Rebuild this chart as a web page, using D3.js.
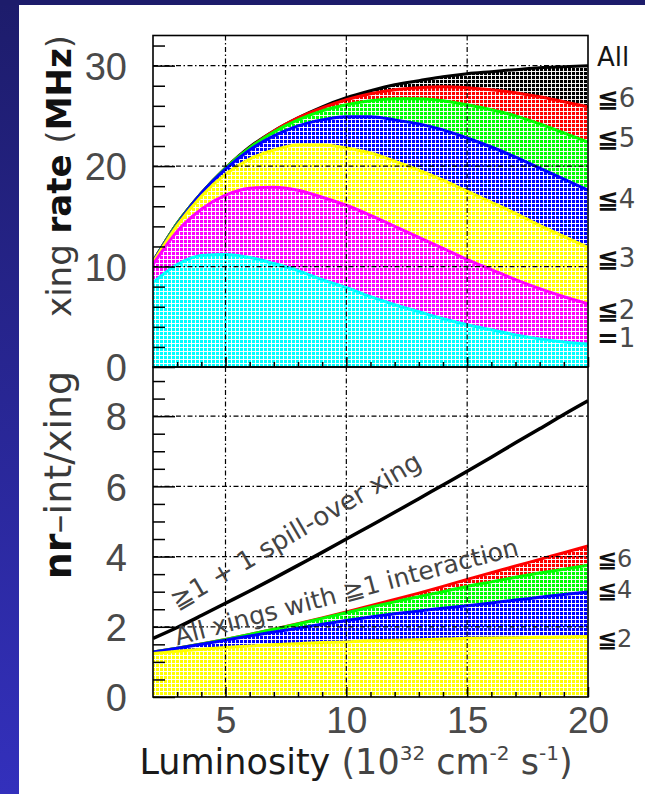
<!DOCTYPE html>
<html>
<head>
<meta charset="utf-8">
<script src="https://cdn.jsdelivr.net/npm/d3@7"></script>
<style>
  html, body { margin: 0; padding: 0; background: #fff; }
  svg { display: block; }
</style>
</head>
<body>
<svg id="chart" width="645" height="794"></svg>
<script>
// Luminosity sample points (10^32 cm^-2 s^-1)
const lumi = [2, 3, 4, 5, 6, 7, 8, 9, 10, 11, 12, 13, 14, 15, 16, 17, 18, 19, 20];

// Crossing rate (MHz), cumulative by number of interactions per crossing
const rateEq1 = [8.4, 10.2, 11.1, 11.2, 10.9, 10.3, 9.6, 8.7, 7.9, 7.0, 6.2, 5.5, 4.8, 4.2, 3.7, 3.2, 2.8, 2.5, 2.3];
const rateLe2 = [10.2, 13.5, 15.7, 17.1, 17.8, 17.9, 17.6, 16.9, 16.1, 15.1, 14.0, 12.9, 11.8, 10.7, 9.7, 8.7, 7.8, 7.0, 6.3];
const rateLe3 = [10.4, 14.1, 17.0, 19.2, 20.7, 21.6, 22.1, 22.1, 21.8, 21.3, 20.5, 19.6, 18.6, 17.5, 16.4, 15.3, 14.1, 13.0, 11.9];
const rateLe4 = [10.5, 14.2, 17.3, 19.7, 21.6, 23.0, 24.0, 24.6, 24.9, 24.9, 24.6, 24.2, 23.6, 22.8, 21.9, 20.9, 19.8, 18.7, 17.6];
const rateLe5 = [10.5, 14.3, 17.3, 19.8, 21.8, 23.4, 24.6, 25.5, 26.1, 26.5, 26.7, 26.7, 26.5, 26.1, 25.6, 25.0, 24.2, 23.3, 22.4];
const rateLe6 = [10.5, 14.3, 17.3, 19.8, 21.8, 23.5, 24.8, 25.8, 26.6, 27.2, 27.6, 27.8, 27.9, 27.8, 27.6, 27.3, 26.9, 26.4, 25.9];
const rateAll = [10.5, 14.3, 17.3, 19.8, 21.9, 23.5, 24.8, 25.9, 26.8, 27.5, 28.1, 28.5, 28.9, 29.2, 29.4, 29.6, 29.8, 29.9, 30.0];

// Mean number of interactions per crossing
const intLe2 = [1.24, 1.30, 1.36, 1.41, 1.45, 1.49, 1.52, 1.55, 1.57, 1.60, 1.62, 1.63, 1.65, 1.67, 1.68, 1.69, 1.70, 1.71, 1.72];
const intLe4 = [1.28, 1.39, 1.50, 1.62, 1.74, 1.85, 1.96, 2.07, 2.18, 2.28, 2.37, 2.45, 2.53, 2.60, 2.68, 2.76, 2.84, 2.92, 2.99];
const intLe6 = [1.28, 1.39, 1.51, 1.64, 1.78, 1.93, 2.08, 2.24, 2.40, 2.56, 2.71, 2.86, 3.00, 3.15, 3.28, 3.41, 3.53, 3.64, 3.75];
const intAll = [1.28, 1.39, 1.51, 1.64, 1.78, 1.93, 2.09, 2.25, 2.42, 2.60, 2.78, 2.96, 3.15, 3.35, 3.54, 3.73, 3.92, 4.11, 4.30];
const intSpill = [1.67, 1.98, 2.32, 2.67, 3.02, 3.38, 3.75, 4.12, 4.50, 4.88, 5.26, 5.65, 6.04, 6.43, 6.83, 7.24, 7.64, 8.05, 8.44];

// Tick values
const xTicks = [5, 10, 15, 20];
const xMinorTicks = [3, 4, 6, 7, 8, 9, 11, 12, 13, 14, 16, 17, 18, 19];
const rateTicks = [0, 10, 20, 30];
const rateMinorTicks = [2, 4, 6, 8, 12, 14, 16, 18, 22, 24, 26, 28, 32];
const intTicks = [0, 2, 4, 6, 8];
const intMinorTicks = [0.5, 1, 1.5, 2.5, 3, 3.5, 4.5, 5, 5.5, 6.5, 7, 7.5, 8.5, 9];

// Right-hand band labels and the levels they sit at
const rateLabels = ["All", "≦6", "≦5", "≦4", "≦3", "≦2", "=1"];
const rateLabelLevels = [30.9, 26.8, 22.8, 16.8, 10.85, 5.67, 2.89];
const intLabels = ["≦6", "≦4", "≦2"];
const intLabelLevels = [3.94, 3.08, 1.67];

const W = 645, H = 794;
const svg = d3.select("#chart");
const defs = svg.append("defs");

// slide background: white page with a dark blue top and left border
const grad = defs.append("linearGradient").attr("id", "sideGrad")
  .attr("x1", 0).attr("y1", 0).attr("x2", 0).attr("y2", 1);
grad.append("stop").attr("offset", "0%").attr("stop-color", "#1d1c6b");
grad.append("stop").attr("offset", "100%").attr("stop-color", "#3330bc");
svg.append("rect").attr("width", W).attr("height", H).attr("fill", "#fff");
svg.append("rect").attr("x", 0).attr("y", 0).attr("width", 19).attr("height", H).attr("fill", "url(#sideGrad)");
svg.append("rect").attr("x", 0).attr("y", 0).attr("width", W).attr("height", 5).attr("fill", "#1d1c6b");

// scales
const x = d3.scaleLinear().domain([2, 20]).range([153, 588]);
const yRate = d3.scaleLinear().domain([0, 33]).range([367, 35.5]);
const yInt = d3.scaleLinear().domain([0, 9.4]).range([697, 367]);

// ROOT-style mesh fill: solid colour cells separated by a white grid
function hatch(id, color) {
  const p = defs.append("pattern").attr("id", id)
    .attr("patternUnits", "userSpaceOnUse").attr("width", 8).attr("height", 8);
  p.append("rect").attr("width", 8).attr("height", 8).attr("fill", color);
  p.append("path").attr("d", "M3.5,0V8M7.5,0V8M0,3.5H8M0,7.5H8")
    .attr("stroke", "#fff").attr("stroke-width", 1).attr("stroke-opacity", 0.95);
  return `url(#${id})`;
}

function clip(id, y0, y1) {
  defs.append("clipPath").attr("id", id).append("rect")
    .attr("x", x.range()[0]).attr("y", y0)
    .attr("width", x.range()[1] - x.range()[0]).attr("height", y1 - y0);
  return `url(#${id})`;
}

function drawBands(bands, yScale, clipUrl) {
  const g = svg.append("g").attr("clip-path", clipUrl);
  bands.forEach(b => {
    const area = d3.area()
      .x((d, i) => x(lumi[i])).y0(yScale(0)).y1(d => yScale(d))
      .curve(d3.curveMonotoneX);
    const line = d3.line()
      .x((d, i) => x(lumi[i])).y(d => yScale(d))
      .curve(d3.curveMonotoneX);
    g.append("path").datum(b.values).attr("d", area)
      .attr("fill", hatch(b.id, b.color));
    g.append("path").datum(b.values).attr("d", line)
      .attr("fill", "none").attr("stroke", b.color).attr("stroke-width", 3);
  });
  return g;
}

function drawGrid(yScale, yVals, top, bottom) {
  const g = svg.append("g").attr("stroke", "#000").attr("stroke-width", 1.2)
    .attr("stroke-dasharray", "5,2.5,1.5,2.5").attr("fill", "none");
  xTicks.filter(v => v < 20).forEach(v => {
    g.append("line").attr("x1", x(v)).attr("x2", x(v)).attr("y1", top).attr("y2", bottom);
  });
  yVals.filter(v => v > 0).forEach(v => {
    g.append("line").attr("x1", x.range()[0]).attr("x2", x.range()[1])
      .attr("y1", yScale(v)).attr("y2", yScale(v));
  });
}

function drawAxes(yScale, major, minor, bottom) {
  const left = x.range()[0];
  const tickStyle = sel => {
    sel.select(".domain").remove();
    sel.selectAll(".tick line").attr("stroke", "#000").attr("stroke-width", 1.5);
  };
  svg.append("g").attr("transform", `translate(${left},0)`)
    .call(d3.axisRight(yScale).tickValues(minor).tickSize(12).tickFormat(""))
    .call(tickStyle);
  svg.append("g").attr("transform", `translate(${left},0)`)
    .call(d3.axisRight(yScale).tickValues(major).tickSize(22).tickFormat(""))
    .call(tickStyle);
  svg.append("g").attr("transform", `translate(0,${bottom})`)
    .call(d3.axisTop(x).tickValues(xMinorTicks).tickSize(5).tickFormat(""))
    .call(tickStyle);
  svg.append("g").attr("transform", `translate(0,${bottom})`)
    .call(d3.axisTop(x).tickValues(xTicks).tickSize(10).tickFormat(""))
    .call(tickStyle);
  const lab = svg.append("g").attr("transform", `translate(${left},0)`)
    .call(d3.axisLeft(yScale).tickValues(major).tickSize(0).tickPadding(26).tickFormat(d3.format("d")));
  lab.select(".domain").remove();
  lab.selectAll("text")
    .attr("font-family", "'Liberation Sans', Arial, sans-serif")
    .attr("font-size", 38).attr("fill", "#4a4a4a").attr("dy", "0.36em");
}

function sideLabels(labels, levels, yScale, size) {
  const g = svg.append("g").attr("font-family", "'DejaVu Sans', sans-serif").attr("font-size", size);
  labels.forEach((s, i) => {
    const t = g.append("text").attr("x", x.range()[1] + 9).attr("y", yScale(levels[i])).attr("dy", "0.36em");
    if (s === "All") {
      t.attr("fill", "#151515").text(s);
    } else {
      t.append("tspan").attr("font-weight", "bold").attr("fill", "#111").text(s[0]);
      t.append("tspan").attr("fill", "#4a4a4a").text(s.slice(1));
    }
  });
}

// ---- upper panel: crossing rate ----
const upperTop = yRate.range()[1], mid = yRate.range()[0], lowerBottom = yInt.range()[0];
drawBands([
  { id: "hAll", values: rateAll, color: "#000000" },
  { id: "hLe6", values: rateLe6, color: "#ff0000" },
  { id: "hLe5", values: rateLe5, color: "#00ff00" },
  { id: "hLe4", values: rateLe4, color: "#0000ff" },
  { id: "hLe3", values: rateLe3, color: "#ffff00" },
  { id: "hLe2", values: rateLe2, color: "#ff00ff" },
  { id: "hEq1", values: rateEq1, color: "#00ffff" }
], yRate, clip("clipUpper", upperTop, mid));
drawGrid(yRate, rateTicks, upperTop, mid);
drawAxes(yRate, rateTicks, rateMinorTicks, mid);
sideLabels(rateLabels, rateLabelLevels, yRate, 26);

// ---- lower panel: interactions per crossing ----
const lowerClip = clip("clipLower", mid, lowerBottom);
drawBands([
  { id: "iAll", values: intAll, color: "#ff0000" },
  { id: "iLe6", values: intLe6, color: "#00ff00" },
  { id: "iLe4", values: intLe4, color: "#0000ff" },
  { id: "iLe2", values: intLe2, color: "#ffff00" }
], yInt, lowerClip);
drawGrid(yInt, intTicks, mid, lowerBottom);
svg.append("g").attr("clip-path", lowerClip).append("path").datum(intSpill)
  .attr("d", d3.line().x((d, i) => x(lumi[i])).y(d => yInt(d)).curve(d3.curveMonotoneX))
  .attr("fill", "none").attr("stroke", "#000").attr("stroke-width", 3.5);
drawAxes(yInt, intTicks, intMinorTicks, lowerBottom);
sideLabels(intLabels, intLabelLevels, yInt, 24);

// x tick labels
const xl = svg.append("g").attr("transform", `translate(0,${lowerBottom})`)
  .call(d3.axisBottom(x).tickValues(xTicks).tickSize(0).tickPadding(10).tickFormat(d3.format("d")));
xl.select(".domain").remove();
xl.selectAll("text").attr("font-family", "'Liberation Sans', Arial, sans-serif")
  .attr("font-size", 37).attr("fill", "#4a4a4a");

// panel frames
[[upperTop, mid], [mid, lowerBottom]].forEach(([a, b]) => {
  svg.append("rect").attr("x", x.range()[0]).attr("y", a)
    .attr("width", x.range()[1] - x.range()[0]).attr("height", b - a)
    .attr("fill", "none").attr("stroke", "#000").attr("stroke-width", 1.6);
});

// curve annotations
const ann = svg.append("g").attr("font-family", "'DejaVu Sans', sans-serif")
  .attr("font-size", 26).attr("fill", "#444");
ann.append("text")
  .attr("transform", `translate(${x(3.0)},${yInt(2.47)}) rotate(-30.2)`)
  .text("≧1 + 1 spill-over xing");
ann.append("text")
  .attr("transform", `translate(${x(3.0)},${yInt(1.47)}) rotate(-14.8)`)
  .attr("font-size", 25)
  .text("All xings with ≧1 interaction");

// axis titles
const titleFont = "'DejaVu Sans', sans-serif";
const t1 = svg.append("text").attr("transform", "translate(71,176) rotate(-90)")
  .attr("text-anchor", "middle").attr("font-family", titleFont).attr("font-size", 34).attr("fill", "#3a3a3a");
t1.append("tspan").text("xing ");
t1.append("tspan").attr("font-weight", "bold").attr("fill", "#111").text("rate");
t1.append("tspan").text(" (");
t1.append("tspan").attr("font-weight", "bold").attr("fill", "#111").text("MHz");
t1.append("tspan").text(")");

const t2 = svg.append("text").attr("transform", "translate(71,475) rotate(-90)")
  .attr("text-anchor", "middle").attr("font-family", titleFont).attr("font-size", 38).attr("fill", "#3a3a3a");
t2.append("tspan").attr("font-weight", "bold").attr("fill", "#111").text("nr");
t2.append("tspan").text("–int/xing");

const t3 = svg.append("text").attr("x", 356).attr("y", 774)
  .attr("text-anchor", "middle").attr("font-family", titleFont).attr("font-size", 35).attr("fill", "#444");
t3.append("tspan").attr("fill", "#1a1a1a").text("Luminosity");
t3.append("tspan").text(" (10");
t3.append("tspan").attr("font-size", 20).attr("dy", -14).text("32");
t3.append("tspan").attr("dy", 14).text(" cm");
t3.append("tspan").attr("font-size", 20).attr("dy", -14).text("-2");
t3.append("tspan").attr("dy", 14).text(" s");
t3.append("tspan").attr("font-size", 20).attr("dy", -14).text("-1");
t3.append("tspan").attr("dy", 14).text(")");
</script>
</body>
</html>
